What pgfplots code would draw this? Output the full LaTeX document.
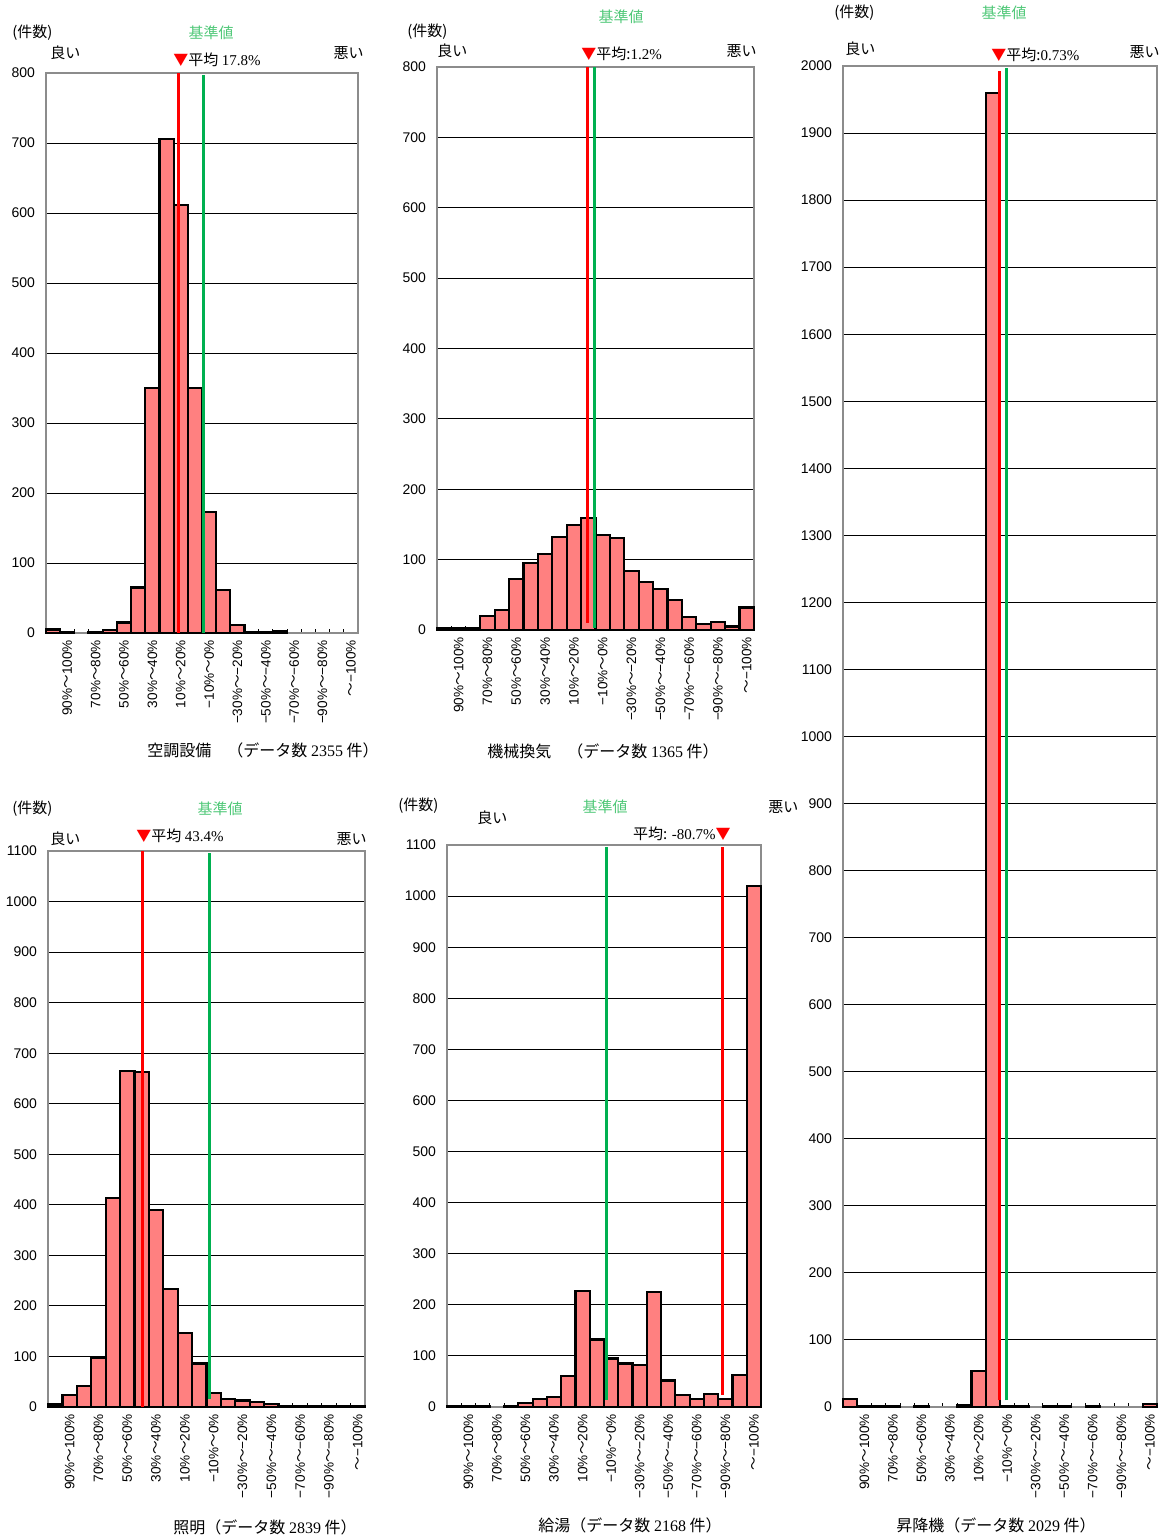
\documentclass[border=0pt]{standalone}
\usepackage{fontspec}
\usepackage{pgfplots}
\pgfplotsset{compat=1.18}
\setmainfont{Liberation Sans}
\newfontfamily\jp{Noto Sans CJK JP}
\newfontfamily\serif{Liberation Serif}
\definecolor{barfill}{HTML}{FF8080}
\definecolor{kijun}{HTML}{00B050}
\definecolor{kijuntxt}{HTML}{50C878}
\definecolor{framegray}{HTML}{8C8C8C}

\newcommand{\tl}{{\jp ～}}
\pgfplotsset{
  hist/.style={
    scale only axis, anchor=south west, clip=false,
    xmin=-0.5, xmax=21.5, ymin=0,
    axis line style={draw=framegray, line width=1pt},
    ymajorgrids, grid style={black, line width=0.5pt},
    major y tick style={draw=none},
    xtick={1,3,...,21},
    xticklabels={90\%\tl100\%, 70\%\tl80\%, 50\%\tl60\%, 30\%\tl40\%, 10\%\tl20\%,
      −10\%\tl0\%, −30\%\tl−20\%, −50\%\tl−40\%, −70\%\tl−60\%, −90\%\tl−80\%, \tl−100\%},
    major x tick style={draw=none},
    minor xtick={-0.5,0.5,...,21.5},
    minor tick length=2pt, minor x tick style={black, line width=0.5pt},
    tick pos=left,
    x tick label style={rotate=90, anchor=east, font=\fontsize{6.8}{8}\selectfont},
    y tick label style={font=\fontsize{7}{8}\selectfont, xshift=-2pt},
    /pgf/number format/assume math mode=true,
    /pgf/number format/1000 sep={},
  },
  bars/.style={ybar, bar width=1, bar shift=0pt, fill=barfill, draw=black, line width=1.1pt},
  mean/.style={red, line width=1.5pt},
  base/.style={kijun, line width=1.5pt},
}

\begin{document}
\begin{tikzpicture}
\useasboundingbox (0,0) rectangle (581.5pt,-770pt);

% 空調設備
\begin{axis}[hist, at={(23pt,-316.5pt)}, width=156pt, height=280pt,
  ymax=800, ytick={0,100,...,800}]
\addplot[bars] coordinates {(0,5) (1,2) (3,1) (4,4) (5,15) (6,65) (7,350) (8,706)
  (9,611) (10,350) (11,173) (12,61) (13,11) (14,1) (15,1) (16,3)};
\addplot[mean] coordinates {(8.85,0) (8.85,800)};
\addplot[base] coordinates {(10.6,0) (10.6,797)};
\end{axis}

% 機械換気
\begin{axis}[hist, at={(218.5pt,-315pt)}, width=158.5pt, height=281.5pt,
  ymax=800, ytick={0,100,...,800}]
\addplot[bars] coordinates {(0,2) (1,3) (2,3) (3,20) (4,28) (5,72) (6,95) (7,108)
  (8,132) (9,149) (10,159) (11,135) (12,131) (13,84) (14,68) (15,58) (16,43)
  (17,19) (18,9) (19,11) (20,5) (21,32)};
\addplot[mean] coordinates {(9.96,10) (9.96,800)};
\addplot[base] coordinates {(10.46,3) (10.46,800)};
\end{axis}

% 照明
\begin{axis}[hist, at={(24pt,-703.5pt)}, width=158.5pt, height=278pt,
  ymax=1100, ytick={0,100,...,1100}]
\addplot[bars] coordinates {(0,5) (1,23) (2,42) (3,98) (4,413) (5,665) (6,663)
  (7,390) (8,233) (9,146) (10,86) (11,28) (12,16) (13,13) (14,10) (15,6) (16,2)
  (17,1) (18,1) (19,1) (20,1) (21,1)};
\addplot[mean] coordinates {(6.04,0) (6.04,1100)};
\addplot[base] coordinates {(10.74,16) (10.74,1096)};
\end{axis}

% 給湯
\begin{axis}[hist, at={(223.5pt,-703.5pt)}, width=157pt, height=281pt,
  ymax=1100, ytick={0,100,...,1100}]
\addplot[bars] coordinates {(0,1) (1,1) (2,1) (4,1) (5,8) (6,15) (7,20) (8,61)
  (9,227) (10,132) (11,95) (12,85) (13,82) (14,225) (15,52) (16,24) (17,15)
  (18,25) (19,15) (20,63) (21,1020)};
\addplot[base] coordinates {(10.69,14) (10.69,1096)};
\addplot[mean] coordinates {(18.79,24) (18.79,1096)};
\end{axis}

% 昇降機
\begin{axis}[hist, at={(421.5pt,-703.5pt)}, width=157pt, height=670.5pt,
  ymax=2000, ytick={0,100,...,2000}]
\addplot[bars] coordinates {(0,12) (1,1) (2,1) (3,1) (5,1) (8,3) (9,54) (10,1960)
  (11,2) (12,2) (14,1) (15,1) (17,1) (21,5)};
\addplot[mean] coordinates {(10.43,10) (10.43,1993)};
\addplot[base] coordinates {(10.92,10) (10.92,1997)};
\end{axis}

\begin{scope}[x=0.5pt, y=-0.5pt, font=\fontsize{7.5}{9}\selectfont\jp, inner sep=0pt]
% 空調設備
\node[anchor=west] at (12,33) {(件数)};
\node[kijuntxt] at (211,33) {基準値};
\node[anchor=west] at (50,53) {良い};
\node[anchor=east] at (364,53) {悪い};
\node[anchor=west] at (173,60) {\textcolor{red}{▼}平均 {\serif 17.8\%}};
\node[font=\fontsize{8}{10}\selectfont\jp] at (263,750) {空調設備\quad（データ数 {\serif 2355} 件）};
% 機械換気
\node[anchor=west] at (407,32) {(件数)};
\node[kijuntxt] at (621,17) {基準値};
\node[anchor=west] at (437,51) {良い};
\node[anchor=east] at (757,51) {悪い};
\node[anchor=west] at (581,54) {\textcolor{red}{▼}平均:{\serif 1.2\%}};
\node[font=\fontsize{8}{10}\selectfont\jp] at (603,751) {機械換気\quad（データ数 {\serif 1365} 件）};
% 照明
\node[anchor=west] at (12,809) {(件数)};
\node[kijuntxt] at (220,809) {基準値};
\node[anchor=west] at (50,839) {良い};
\node[anchor=east] at (367,839) {悪い};
\node[anchor=west] at (136,836) {\textcolor{red}{▼}平均 {\serif 43.4\%}};
\node[font=\fontsize{8}{10}\selectfont\jp] at (265,1527) {照明（データ数 {\serif 2839} 件）};
% 給湯
\node[anchor=west] at (398,806) {(件数)};
\node[kijuntxt] at (605,807) {基準値};
\node[anchor=west] at (477,818) {良い};
\node[anchor=west] at (768,807) {悪い};
\node[anchor=east] at (731,834) {平均: {\serif -80.7\%}\textcolor{red}{▼}};
\node[font=\fontsize{8}{10}\selectfont\jp] at (630,1525) {給湯（データ数 {\serif 2168} 件）};
% 昇降機
\node[anchor=west] at (834,13) {(件数)};
\node[kijuntxt] at (1004,13) {基準値};
\node[anchor=west] at (845,49) {良い};
\node[anchor=east] at (1160,52) {悪い};
\node[anchor=west] at (991,55) {\textcolor{red}{▼}平均:{\serif 0.73\%}};
\node[font=\fontsize{8}{10}\selectfont\jp] at (996,1525) {昇降機（データ数 {\serif 2029} 件）};
\end{scope}
\end{tikzpicture}
\end{document}
